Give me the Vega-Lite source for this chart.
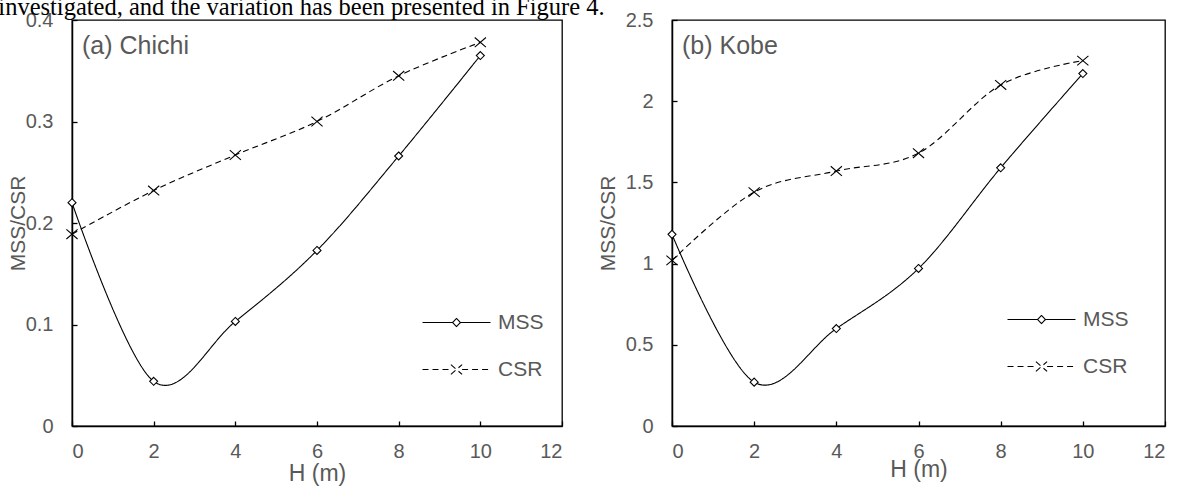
{
  "$schema": "https://vega.github.io/schema/vega-lite/v6.json",
  "padding": {"left": -2, "top": -6, "right": 0, "bottom": 0},
  "title": {"text": "investigated, and the variation has been presented in Figure 4.", "anchor": "start", "frame": "bounds", "font": "Liberation Serif", "fontSize": 24.5, "fontWeight": "normal", "color": "#000000", "offset": -11, "dx": -8},
  "datasets": {
    "d": [
      {"panel": "Chichi", "series": "MSS", "H": 0, "value": 0.220},
      {"panel": "Chichi", "series": "MSS", "H": 2, "value": 0.044},
      {"panel": "Chichi", "series": "MSS", "H": 4, "value": 0.103},
      {"panel": "Chichi", "series": "MSS", "H": 6, "value": 0.173},
      {"panel": "Chichi", "series": "MSS", "H": 8, "value": 0.266},
      {"panel": "Chichi", "series": "MSS", "H": 10, "value": 0.365},
      {"panel": "Chichi", "series": "CSR", "H": 0, "value": 0.189},
      {"panel": "Chichi", "series": "CSR", "H": 2, "value": 0.232},
      {"panel": "Chichi", "series": "CSR", "H": 4, "value": 0.267},
      {"panel": "Chichi", "series": "CSR", "H": 6, "value": 0.300},
      {"panel": "Chichi", "series": "CSR", "H": 8, "value": 0.345},
      {"panel": "Chichi", "series": "CSR", "H": 10, "value": 0.378},
      {"panel": "Kobe", "series": "MSS", "H": 0, "value": 1.18},
      {"panel": "Kobe", "series": "MSS", "H": 2, "value": 0.27},
      {"panel": "Kobe", "series": "MSS", "H": 4, "value": 0.60},
      {"panel": "Kobe", "series": "MSS", "H": 6, "value": 0.97},
      {"panel": "Kobe", "series": "MSS", "H": 8, "value": 1.59},
      {"panel": "Kobe", "series": "MSS", "H": 10, "value": 2.17},
      {"panel": "Kobe", "series": "CSR", "H": 0, "value": 1.02},
      {"panel": "Kobe", "series": "CSR", "H": 2, "value": 1.44},
      {"panel": "Kobe", "series": "CSR", "H": 4, "value": 1.57},
      {"panel": "Kobe", "series": "CSR", "H": 6, "value": 1.68},
      {"panel": "Kobe", "series": "CSR", "H": 8, "value": 2.10},
      {"panel": "Kobe", "series": "CSR", "H": 10, "value": 2.25}
    ]
  },
  "spacing": 110,
  "bounds": "flush",
  "hconcat": [
    {
      "width": 490,
      "height": 406,
      "title": {"text": "(a) Chichi", "anchor": "start", "frame": "group", "font": "Liberation Sans", "fontSize": 25, "fontWeight": "normal", "color": "#595959", "baseline": "alphabetic", "offset": 0, "dx": 10, "dy": 69},
      "data": {"name": "d"},
      "transform": [{"filter": "datum.panel === 'Chichi'"}],
      "encoding": {
        "x": {"field": "H", "type": "quantitative", "scale": {"domain": [0, 12], "nice": false}, "axis": {"values": [0, 2, 4, 6, 8, 10, 12], "title": "H (m)", "titleFontSize": 23, "titleBaseline": "alphabetic", "titleY": 54}},
        "y": {"field": "value", "type": "quantitative", "scale": {"domain": [0, 0.4], "nice": false}, "axis": {"values": [0, 0.1, 0.2, 0.3, 0.4], "format": "~g", "title": "MSS/CSR", "titleFontSize": 21, "titleBaseline": "alphabetic", "titleX": -48}}
      },
      "layer": [
        {
          "mark": {"type": "line", "interpolate": "cardinal", "color": "#000000", "strokeWidth": 1.1},
          "encoding": {
            "strokeDash": {"field": "series", "type": "nominal", "scale": {"domain": ["MSS", "CSR"], "range": [[1, 0], [6, 4]]}, "legend": {"title": null, "orient": "none", "legendX": 374, "legendY": 292}}
          }
        },
        {
          "mark": {"type": "point", "filled": false, "color": "#000000", "opacity": 0, "size": 64, "strokeWidth": 1.1},
          "encoding": {
            "shape": {"field": "series", "type": "nominal", "scale": {"domain": ["MSS", "CSR"], "range": ["M-8.5,0L-1,0M1,0L8.5,0M0,-1L1,0L0,1L-1,0Z", "M-8.5,0L-1.4,0M1.4,0L8.5,0M-1.4,-1.2L1.4,1.2M-1.4,1.2L1.4,-1.2"]}, "legend": {"title": null, "orient": "none", "legendX": 374, "legendY": 292}},
            "strokeDash": {"field": "series", "type": "nominal", "scale": {"domain": ["MSS", "CSR"], "range": [[1, 0], [6, 4]]}, "legend": {"title": null, "orient": "none", "legendX": 374, "legendY": 292}}
          }
        },
        {
          "transform": [{"filter": "datum.series === 'MSS'"}],
          "mark": {"type": "point", "shape": "M0,-1L1,0L0,1L-1,0Z", "filled": false, "fill": "#ffffff", "stroke": "#000000", "strokeWidth": 1.1, "size": 64, "opacity": 1}
        },
        {
          "transform": [{"filter": "datum.series === 'CSR'"}],
          "mark": {"type": "point", "shape": "M-1.4,-1.2L1.4,1.2M-1.4,1.2L1.4,-1.2", "filled": false, "stroke": "#000000", "strokeWidth": 1.1, "size": 64, "opacity": 1}
        }
      ]
    },
    {
      "width": 493,
      "height": 406,
      "title": {"text": "(b) Kobe", "anchor": "start", "frame": "group", "font": "Liberation Sans", "fontSize": 25, "fontWeight": "normal", "color": "#595959", "baseline": "alphabetic", "offset": 0, "dx": 10, "dy": 69},
      "data": {"name": "d"},
      "transform": [{"filter": "datum.panel === 'Kobe'"}],
      "encoding": {
        "x": {"field": "H", "type": "quantitative", "scale": {"domain": [0, 12], "nice": false}, "axis": {"values": [0, 2, 4, 6, 8, 10, 12], "title": "H (m)", "titleFontSize": 23, "titleBaseline": "alphabetic", "titleY": 50}},
        "y": {"field": "value", "type": "quantitative", "scale": {"domain": [0, 2.5], "nice": false}, "axis": {"values": [0, 0.5, 1, 1.5, 2, 2.5], "format": "~g", "title": "MSS/CSR", "titleFontSize": 21, "titleBaseline": "alphabetic", "titleX": -58}}
      },
      "layer": [
        {
          "mark": {"type": "line", "interpolate": "cardinal", "color": "#000000", "strokeWidth": 1.1},
          "encoding": {
            "strokeDash": {"field": "series", "type": "nominal", "scale": {"domain": ["MSS", "CSR"], "range": [[1, 0], [6, 4]]}, "legend": {"title": null, "orient": "none", "legendX": 359, "legendY": 289}}
          }
        },
        {
          "mark": {"type": "point", "filled": false, "color": "#000000", "opacity": 0, "size": 64, "strokeWidth": 1.1},
          "encoding": {
            "shape": {"field": "series", "type": "nominal", "scale": {"domain": ["MSS", "CSR"], "range": ["M-8.5,0L-1,0M1,0L8.5,0M0,-1L1,0L0,1L-1,0Z", "M-8.5,0L-1.4,0M1.4,0L8.5,0M-1.4,-1.2L1.4,1.2M-1.4,1.2L1.4,-1.2"]}, "legend": {"title": null, "orient": "none", "legendX": 359, "legendY": 289}},
            "strokeDash": {"field": "series", "type": "nominal", "scale": {"domain": ["MSS", "CSR"], "range": [[1, 0], [6, 4]]}, "legend": {"title": null, "orient": "none", "legendX": 359, "legendY": 289}}
          }
        },
        {
          "transform": [{"filter": "datum.series === 'MSS'"}],
          "mark": {"type": "point", "shape": "M0,-1L1,0L0,1L-1,0Z", "filled": false, "fill": "#ffffff", "stroke": "#000000", "strokeWidth": 1.1, "size": 64, "opacity": 1}
        },
        {
          "transform": [{"filter": "datum.series === 'CSR'"}],
          "mark": {"type": "point", "shape": "M-1.4,-1.2L1.4,1.2M-1.4,1.2L1.4,-1.2", "filled": false, "stroke": "#000000", "strokeWidth": 1.1, "size": 64, "opacity": 1}
        }
      ]
    }
  ],
  "resolve": {"scale": {"strokeDash": "independent", "shape": "independent"}, "legend": {"strokeDash": "independent", "shape": "independent"}},
  "config": {
    "view": {"stroke": "#000000", "strokeWidth": 1.3},
    "axis": {"grid": false, "domainColor": "#000000", "domainWidth": 1.5, "tickColor": "#000000", "tickSize": -5, "tickWidth": 1.3, "labelFont": "Liberation Sans", "labelFontSize": 20, "labelColor": "#595959", "titleFont": "Liberation Sans", "titleColor": "#595959", "titleFontWeight": "normal"},
    "axisX": {"labelPadding": 20},
    "axisY": {"labelPadding": 24},
    "legend": {"padding": 0, "labelFont": "Liberation Sans", "labelFontSize": 21, "labelColor": "#595959", "labelOffset": 31, "rowPadding": 25, "symbolSize": 64, "symbolStrokeColor": "#000000", "symbolStrokeWidth": 1.1, "symbolOpacity": 1, "symbolFillColor": "transparent"}
  }
}
